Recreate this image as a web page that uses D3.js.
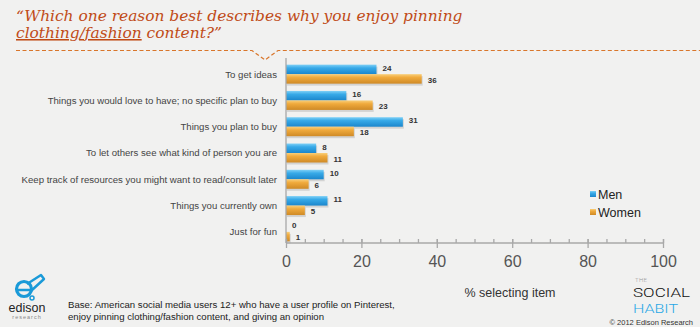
<!DOCTYPE html>
<html>
<head>
<meta charset="utf-8">
<script src="https://cdn.jsdelivr.net/npm/d3@7"></script>
<style>
  html, body { margin: 0; padding: 0; background: #f1f1f0; }
  svg { display: block; }
</style>
</head>
<body>
<div id="chart"></div>
<script>
// chart values
var categories = [
  "To get ideas",
  "Things you would love to have; no specific plan to buy",
  "Things you plan to buy",
  "To let others see what kind of person you are",
  "Keep track of resources you might want to read/consult later",
  "Things you currently own",
  "Just for fun"
];
var series = ["Men", "Women"];
var menValues = [24, 16, 31, 8, 10, 11, 0];
var womenValues = [36, 23, 18, 11, 6, 5, 1];
var xTicks = [0, 20, 40, 60, 80, 100];

var W = 700, H = 327;
var svg = d3.select("#chart").append("svg")
    .attr("width", W)
    .attr("height", H);

svg.append("rect").attr("width", W).attr("height", H).attr("fill", "#f1f1f0");

var defs = svg.append("defs");
function grad(id, stops) {
  var g = defs.append("linearGradient").attr("id", id)
      .attr("x1", 0).attr("y1", 0).attr("x2", 0).attr("y2", 1);
  stops.forEach(function(s) {
    g.append("stop").attr("offset", s[0]).attr("stop-color", s[1]);
  });
}
grad("gMen", [[0, "#7fd0f6"], [0.35, "#38aae8"], [1, "#1b86cc"]]);
grad("gWomen", [[0, "#f9cf7a"], [0.35, "#f0aa3c"], [1, "#cf8a26"]]);

// title
var title = svg.append("g").attr("fill", "#c04b17")
    .style("font-family", "'DejaVu Serif', Georgia, serif")
    .style("font-style", "italic");
var t1 = title.append("text").attr("x", 16).attr("y", 21)
    .text("\u201cWhich one reason best describes why you enjoy pinning");
var fs = 17;
t1.style("font-size", fs + "px");
fs = fs * 447 / t1.node().getComputedTextLength();
t1.style("font-size", fs + "px");
var t2 = title.append("text").attr("x", 16).attr("y", 38).style("font-size", fs + "px");
t2.append("tspan").attr("text-decoration", "underline").text("clothing/fashion");
t2.append("tspan").text(" content?\u201d");

// dashed divider with notch
svg.append("path")
    .attr("d", "M16,50.5 H252 L265,60 L278,50.5 H700")
    .attr("fill", "none")
    .attr("stroke", "#d9762b")
    .attr("stroke-width", 1.2)
    .attr("stroke-dasharray", "4,2.5");

// scales
var x = d3.scaleLinear().domain([0, 100]).range([286, 663]);
var y = d3.scaleBand().domain(categories).range([61, 245]);
var sub = d3.scaleBand().domain(series).range([0, 19]);
var axisY = 243;

// category labels
svg.append("g").selectAll("text")
  .data(categories).join("text")
    .attr("x", 277)
    .attr("y", function(d) { return y(d) + y.bandwidth() / 2; })
    .attr("dy", "0.35em")
    .attr("text-anchor", "end")
    .attr("fill", "#444")
    .style("font-family", "'Liberation Sans', Arial, sans-serif")
    .style("font-size", "9.6px")
    .text(function(d) { return d; });

// bars
var rows = categories.map(function(c, i) {
  return { cat: c, vals: [{ s: "Men", v: menValues[i] }, { s: "Women", v: womenValues[i] }] };
});
var off = (y.bandwidth() - 19) / 2;
var rowG = svg.append("g").selectAll("g")
  .data(rows).join("g")
    .attr("transform", function(d) { return "translate(0," + (y(d.cat) + off) + ")"; });

rowG.selectAll("rect.shadow")
  .data(function(d) { return d.vals; }).join("rect")
    .attr("class", "shadow")
    .attr("x", x(0) + 1)
    .attr("y", function(d) { return sub(d.s) + 2; })
    .attr("width", function(d) { return Math.max(0, x(d.v) - x(0)); })
    .attr("height", sub.bandwidth())
    .attr("fill", "#000")
    .attr("opacity", 0.12);

rowG.selectAll("rect.bar")
  .data(function(d) { return d.vals; }).join("rect")
    .attr("class", "bar")
    .attr("x", x(0))
    .attr("y", function(d) { return sub(d.s); })
    .attr("width", function(d) { return x(d.v) - x(0); })
    .attr("height", sub.bandwidth())
    .attr("fill", function(d) { return d.s === "Men" ? "url(#gMen)" : "url(#gWomen)"; });

rowG.selectAll("text")
  .data(function(d) { return d.vals; }).join("text")
    .attr("x", function(d) { return x(d.v) + 6; })
    .attr("y", function(d) { return sub(d.s) + sub.bandwidth() / 2 + (d.s === "Men" ? -1.5 : 1); })
    .attr("dy", "0.35em")
    .attr("fill", "#333")
    .style("font-family", "'Liberation Sans', Arial, sans-serif")
    .style("font-size", "8px")
    .style("font-weight", "bold")
    .text(function(d) { return d.v; });

// axes
var axisG = svg.append("g").attr("transform", "translate(0," + axisY + ")");
axisG.call(d3.axisTop(x).tickValues(d3.range(0, 101, 5)).tickSize(4).tickFormat(""));
axisG.call(function(g) { g.select(".domain").remove(); });
var majorG = svg.append("g").attr("transform", "translate(0," + axisY + ")");
majorG.call(d3.axisBottom(x).tickValues(xTicks).tickSize(5).tickPadding(8).tickFormat(d3.format("d")));
majorG.select(".domain").attr("d", "M" + x(0) + ",0H" + x(100));
majorG.selectAll(".tick line").attr("y1", -4);
svg.selectAll(".tick line, .domain").attr("stroke", "#a8a8a8").attr("stroke-width", 1.3);
majorG.selectAll("text")
    .attr("fill", "#555")
    .style("font-family", "'Liberation Sans', Arial, sans-serif")
    .style("font-size", "16px");

svg.append("line")
    .attr("x1", x(0)).attr("x2", x(0))
    .attr("y1", 58).attr("y2", axisY)
    .attr("stroke", "#a8a8a8").attr("stroke-width", 1.3);

svg.append("text")
    .attr("x", 510).attr("y", 297)
    .attr("text-anchor", "middle")
    .attr("fill", "#333")
    .style("font-family", "'Liberation Sans', Arial, sans-serif")
    .style("font-size", "12.5px")
    .text("% selecting item");

// legend
var leg = svg.append("g").selectAll("g")
  .data(series).join("g")
    .attr("transform", function(d, i) { return "translate(590," + (191 + i * 18) + ")"; });
leg.append("rect")
    .attr("width", 6).attr("height", 6)
    .attr("fill", function(d) { return d === "Men" ? "url(#gMen)" : "url(#gWomen)"; });
leg.append("text")
    .attr("x", 8).attr("y", 8)
    .attr("fill", "#222")
    .style("font-family", "'Liberation Sans', Arial, sans-serif")
    .style("font-size", "12.5px")
    .text(function(d) { return d; });

// base note
var note = svg.append("text")
    .attr("fill", "#222")
    .style("font-family", "'Liberation Sans', Arial, sans-serif")
    .style("font-size", "9.6px");
note.append("tspan").attr("x", 68).attr("y", 308)
    .text("Base: American social media users 12+ who have a user profile on Pinterest,");
note.append("tspan").attr("x", 68).attr("y", 319.5)
    .text("enjoy pinning clothing/fashion content, and giving an opinion");

// edison research logo
var logo = svg.append("g");
logo.append("circle").attr("cx", 24).attr("cy", 289).attr("r", 7.5)
    .attr("fill", "none").attr("stroke", "#1a9ad8").attr("stroke-width", 3.2);
logo.append("path").attr("d", "M18,290 H30 M27,284 L41,275 L44,279 L31,291")
    .attr("fill", "none").attr("stroke", "#1a9ad8").attr("stroke-width", 2.4)
    .attr("stroke-linejoin", "round");
logo.append("circle").attr("cx", 32).attr("cy", 298).attr("r", 2)
    .attr("fill", "none").attr("stroke", "#1a9ad8").attr("stroke-width", 1.5);
logo.append("text").attr("x", 27).attr("y", 312).attr("text-anchor", "middle")
    .attr("fill", "#222")
    .style("font-family", "'Liberation Sans', Arial, sans-serif")
    .style("font-size", "12.5px")
    .text("edison");
logo.append("text").attr("x", 27).attr("y", 319).attr("text-anchor", "middle")
    .attr("fill", "#888")
    .attr("letter-spacing", "1")
    .style("font-family", "'Liberation Sans', Arial, sans-serif")
    .style("font-size", "5.5px")
    .text("research");

// the social habit mark
var sh = svg.append("g").style("font-family", "Roboto, 'Open Sans', sans-serif").style("font-weight", 300);
sh.append("text").attr("x", 635).attr("y", 281.5).attr("fill", "#999")
    .style("font-size", "6px").attr("textLength", 12).text("THE");
sh.append("text").attr("x", 633).attr("y", 297).attr("fill", "#111")
    .style("font-size", "13.5px").attr("textLength", 57).attr("lengthAdjust", "spacingAndGlyphs").text("SOCIAL");
sh.append("text").attr("x", 633).attr("y", 313).attr("fill", "#2aa8e6")
    .style("font-size", "13.5px").attr("textLength", 45).attr("lengthAdjust", "spacingAndGlyphs").text("HABIT");
svg.append("text").attr("x", 693).attr("y", 325).attr("text-anchor", "end")
    .attr("fill", "#333")
    .style("font-family", "'Liberation Sans', Arial, sans-serif")
    .style("font-size", "7.5px")
    .text("\u00a9 2012 Edison Research");
</script>
</body>
</html>
